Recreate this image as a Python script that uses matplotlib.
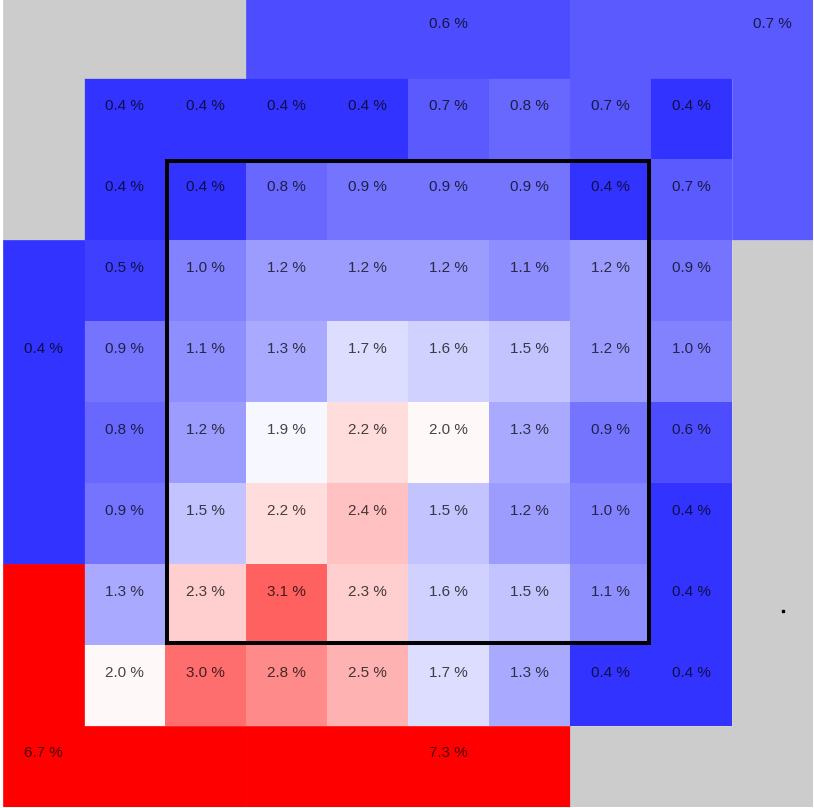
import numpy as np
import matplotlib
matplotlib.use("Agg")
import matplotlib.pyplot as plt
from matplotlib.colors import LinearSegmentedColormap, Normalize
from matplotlib.patches import Polygon, Rectangle

# share (%) per cell of the 8x8 inner grid, top row first
grid_vals = [
    [0.4, 0.4, 0.4, 0.4, 0.7, 0.8, 0.7, 0.4],
    [0.4, 0.4, 0.8, 0.9, 0.9, 0.9, 0.4, 0.7],
    [0.5, 1.0, 1.2, 1.2, 1.2, 1.1, 1.2, 0.9],
    [0.9, 1.1, 1.3, 1.7, 1.6, 1.5, 1.2, 1.0],
    [0.8, 1.2, 1.9, 2.2, 2.0, 1.3, 0.9, 0.6],
    [0.9, 1.5, 2.2, 2.4, 1.5, 1.2, 1.0, 0.4],
    [1.3, 2.3, 3.1, 2.3, 1.6, 1.5, 1.1, 0.4],
    [2.0, 3.0, 2.8, 2.5, 1.7, 1.3, 0.4, 0.4],
]

# outer zones (None = no data, drawn grey)
outer_names = ["top_left", "top", "top_right", "left", "bottom_left", "bottom", "bottom_right"]
outer_vals = [None, 0.6, 0.7, 0.4, 6.7, 7.3, None]

# geometry of the outer zones (x right, y down; inner grid is 0..8)
outer_shapes = {
    "top_left": [(-1, -1), (2, -1), (2, 0), (0, 0), (0, 2), (-1, 2)],
    "top": [(2, -1), (6, -1), (6, 0), (2, 0)],
    "top_right": [(6, -1), (9, -1), (9, 2), (8, 2), (8, 0), (6, 0)],
    "left": [(-1, 2), (0, 2), (0, 6), (-1, 6)],
    "bottom_left": [(-1, 6), (0, 6), (0, 8), (2, 8), (2, 9), (-1, 9)],
    "bottom": [(2, 8), (6, 8), (6, 9), (2, 9)],
    "bottom_right": [(6, 8), (8, 8), (8, 2), (9, 2), (9, 9), (6, 9)],
}
outer_label_pos = {
    "top": (4.5, -0.67),
    "top_right": (8.5, -0.67),
    "left": (-0.5, 3.35),
    "bottom_left": (-0.5, 8.33),
    "bottom": (4.5, 8.33),
}

cmap = LinearSegmentedColormap.from_list(
    "zone", [(0.0, (0.2, 0.2, 1.0)), (0.456, (1.0, 1.0, 1.0)), (1.0, (1.0, 0.0, 0.0))])
norm = Normalize(vmin=0.4, vmax=3.8, clip=True)
grey = "#cccccc"
txt_kw = dict(ha="center", va="center", fontsize=11, family=["Liberation Sans", "DejaVu Sans"],
              color="black", alpha=0.72)

fig = plt.figure(figsize=(8.14, 8.08), dpi=100)
ax = fig.add_axes([3 / 814, 1 / 808, 810 / 814, 810 / 808])
ax.set_xlim(-1, 9)
ax.set_ylim(9, -1)
ax.axis("off")

grid = np.array(grid_vals)
ax.pcolormesh(np.arange(9), np.arange(9), grid, cmap=cmap, norm=norm,
              antialiased=False, edgecolors="none")

for name, val in zip(outer_names, outer_vals):
    fc = grey if val is None else cmap(norm(val))
    ax.add_patch(Polygon(outer_shapes[name], closed=True, facecolor=fc,
                         edgecolor=fc, linewidth=0.5))
    if val is not None:
        x, y = outer_label_pos[name]
        ax.text(x, y, f"{val:.1f} %", **txt_kw)

for r in range(grid.shape[0]):
    for c in range(grid.shape[1]):
        ax.text(c + 0.5, r + 0.34, f"{grid[r, c]:.1f} %", **txt_kw)

# strike zone outline
ax.add_patch(Rectangle((1.03, 1.03), 5.94, 5.94, fill=False, edgecolor="black", linewidth=2.9))

# stray point at the right
ax.plot([8.63], [6.58], marker="s", color="black", markersize=1.6, linestyle="none")

fig.savefig("out.png", dpi=100, facecolor="white")
